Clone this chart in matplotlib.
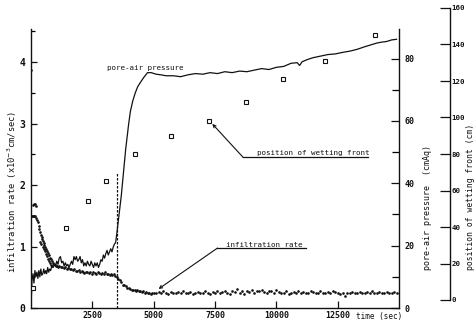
import matplotlib
matplotlib.use("Agg")
import matplotlib.pyplot as plt
from matplotlib.ticker import MultipleLocator, FixedLocator

plt.rcParams['font.family'] = ['DejaVu Sans Mono']

# ---------------- data ----------------
# infiltration rate (x10^-3 cm/sec), dots
rate_t = [20,
          40, 80, 120, 160, 70, 110, 150, 190,
          220, 250, 280, 310, 340, 370, 400, 430, 460, 490, 520, 550, 580, 610, 640,
          680, 720, 760, 800, 840, 880, 920, 960, 1000,
          380, 420, 470, 520, 570, 620, 660, 700, 740, 780, 820, 860,
          1040, 1100, 1160, 1220, 1280, 1340, 1400, 1460, 1520, 1580, 1640, 1700, 1760,
          1820, 1880, 1940, 2000, 2060, 2120, 2180, 2240, 2300, 2360, 2420, 2480, 2540,
          2600, 2660, 2720, 2780, 2840, 2900, 2960, 3020, 3080, 3140, 3200, 3260, 3320,
          3380, 3440, 3500,
          3560, 3620, 3680, 3740, 3800, 3860, 3920, 3980, 4040, 4100, 4160, 4220, 4280,
          4340, 4400, 4460, 4520, 4580, 4640, 4700, 4760, 4820, 4880, 4940, 5000,
          5100, 5200, 5300, 5400, 5500, 5600, 5700, 5800, 5900, 6000,
          6100, 6200, 6300, 6400, 6500, 6600, 6700, 6800, 6900, 7000,
          7100, 7200, 7300, 7400, 7500, 7600, 7700, 7800, 7900, 8000,
          8100, 8200, 8300, 8400, 8500, 8600, 8700, 8800, 8900, 9000,
          9100, 9200, 9300, 9400, 9500, 9600, 9700, 9800, 9900, 10000,
          10100, 10200, 10300, 10400, 10500, 10600, 10700, 10800, 10900, 11000,
          11100, 11200, 11300, 11400, 11500, 11600, 11700, 11800, 11900, 12000,
          12100, 12200, 12300, 12400, 12500, 12600, 12700, 12800, 12900, 13000,
          13100, 13200, 13300, 13400, 13500, 13600, 13700, 13800, 13900, 14000,
          14100, 14200, 14300, 14400, 14500, 14600, 14700, 14800, 14900]
rate_v = [3.87,
          1.50, 1.50, 1.50, 1.49, 1.68, 1.70, 1.69, 1.66,
          1.46, 1.43, 1.40, 1.34, 1.29, 1.24, 1.19, 1.16, 1.12, 1.09, 1.05, 1.03, 0.99, 0.96, 0.93,
          0.90, 0.86, 0.82, 0.79, 0.76, 0.73, 0.71, 0.70, 0.69,
          1.07, 1.04, 1.00, 0.96, 0.92, 0.88, 0.84, 0.80, 0.76, 0.73, 0.70, 0.68,
          0.68, 0.67, 0.68, 0.66, 0.67, 0.65, 0.66, 0.64, 0.65, 0.63, 0.64, 0.62, 0.63,
          0.61, 0.60, 0.62, 0.58, 0.60, 0.59, 0.57, 0.59, 0.58, 0.57, 0.58, 0.56, 0.58,
          0.57, 0.56, 0.58, 0.57, 0.55, 0.57, 0.56, 0.58, 0.55, 0.56, 0.54, 0.56, 0.53,
          0.55, 0.52, 0.50,
          0.48, 0.46, 0.42, 0.38, 0.37, 0.35, 0.33, 0.33, 0.31, 0.30, 0.29, 0.29, 0.28,
          0.29, 0.27, 0.28, 0.26, 0.27, 0.25, 0.26, 0.24, 0.25, 0.23, 0.25, 0.24,
          0.25, 0.26, 0.24, 0.27, 0.25, 0.23, 0.26, 0.25, 0.24, 0.26,
          0.25, 0.27, 0.24, 0.25, 0.26, 0.23, 0.25, 0.26, 0.24, 0.25,
          0.27, 0.25, 0.23, 0.26, 0.25, 0.27, 0.24, 0.26, 0.28, 0.25,
          0.23, 0.27, 0.26, 0.31, 0.24, 0.28, 0.22, 0.27, 0.26, 0.29,
          0.25, 0.28, 0.27, 0.30, 0.26, 0.24, 0.28, 0.27, 0.25, 0.29,
          0.26, 0.24, 0.25, 0.27, 0.23, 0.25, 0.26, 0.24, 0.27, 0.25,
          0.26, 0.24, 0.25, 0.27, 0.26, 0.24, 0.25, 0.27, 0.25, 0.24,
          0.26, 0.25, 0.27, 0.26, 0.24, 0.22, 0.25, 0.19, 0.24, 0.25,
          0.26, 0.25, 0.24, 0.26, 0.25, 0.24, 0.26, 0.25, 0.27, 0.24,
          0.25, 0.26, 0.24, 0.25, 0.26, 0.24, 0.25, 0.26, 0.25]

# pore-air pressure (cmAq), line
press_t = [0, 40, 80, 120, 160, 200, 240, 280, 320, 360, 400, 440, 480, 520, 560, 600,
           640, 680, 720, 760, 800, 850, 900, 950, 1000, 1050, 1100, 1150, 1200, 1250,
           1300, 1350, 1400, 1450, 1500, 1550, 1600, 1650, 1700, 1750, 1800, 1850, 1900,
           1950, 2000, 2050, 2100, 2150, 2200, 2250, 2300, 2350, 2400, 2450, 2500, 2550,
           2600, 2650, 2700, 2750, 2800, 2850, 2900, 2950, 3000, 3050, 3100, 3150, 3200,
           3250, 3300, 3350, 3400, 3450, 3500, 3560, 3620, 3680, 3740, 3800, 3860, 3920,
           3980, 4050, 4150, 4250, 4350, 4470, 4600, 4750, 4900, 5100, 5300, 5500, 5800,
           6100, 6400, 6700, 7000, 7300, 7600, 7900, 8200, 8500, 8800, 9100, 9400, 9700,
           10000, 10300, 10600, 10850, 10950, 11050, 11300, 11500, 11800, 12100, 12400,
           12700, 13000, 13300, 13600, 13900, 14100, 14300, 14500, 14700, 14900]
press_v = [0, 9, 11, 8, 12, 10, 11.5, 9.5, 12, 10, 12.5, 10.5, 11, 12.5, 11, 12,
           11, 13, 11.5, 12.5, 12, 13.5, 13, 14, 13.5, 15, 14, 16, 16.5, 14.5,
           15, 13.5, 14.5, 13.5, 14, 13, 14, 15, 14, 16.5, 15.5, 16.5, 15,
           15.5, 16.5, 14.5, 15.5, 13.5, 14.5, 13.5, 15, 14, 13.5, 15, 14, 13,
           14.5, 13.5, 14.5, 13, 14, 15.5, 15, 17, 16, 17.5, 18.5, 17, 18,
           19, 18, 19.5, 20.5, 21, 24, 28, 32, 36, 41, 46, 51, 55,
           59, 63, 66.5, 69, 71, 72.5, 74, 75.5, 75.5, 75, 74.8, 74.5, 74.5,
           74.2, 74.8, 75.2, 75, 75.5, 75.2, 75.8, 75.5, 76, 75.8, 76.3, 76.8, 76.5,
           77.2, 77.5, 78.5, 78.7, 77.8, 79, 79.8, 80.3, 80.8, 81.3, 81.5,
           82, 82.4, 83, 83.8, 84.5, 85, 85.3, 85.5, 86, 86.2]

# position of wetting front (cm), open squares
front_t = [100, 1420, 2310, 3050, 4230, 5690, 7240, 8780, 10290, 11990, 14020]
front_pos = [6.5, 39.5, 54, 65, 80, 90, 98, 108.5, 121, 131, 145]

x_ticks = [2500, 5000, 7500, 10000, 12500]
rate_ticks = [0, 1, 2, 3, 4]
press_ticks = [0, 20, 40, 60, 80]
front_ticks = [0, 20, 40, 60, 80, 100, 120, 140, 160]
t_switch = 3500

# ---------------- figure ----------------
W, H = 475, 327
fig = plt.figure(figsize=(W / 100, H / 100), dpi=100)

def fx(px):
    return px / W

def fy(py):
    return 1 - py / H

L, R, B, T = 31, 399, 308, 29
ax = fig.add_axes([fx(L), fy(B), fx(R - L), fy(T) - fy(B)])
ax2 = ax.twinx()
ax3 = fig.add_axes([fx(L), fy(300), fx(R - L), fy(8) - fy(300)])

ink = '#111111'
fs_tick = 6

# main axis
ax.set_xlim(0, 15000)
ax.set_ylim(0, 4.54)
ax.spines['top'].set_visible(False)
ax.spines['right'].set_visible(False)
for s in ('left', 'bottom'):
    ax.spines[s].set_linewidth(1.0)
    ax.spines[s].set_color(ink)
ax.xaxis.set_major_locator(FixedLocator(x_ticks))
ax.yaxis.set_major_locator(FixedLocator(rate_ticks))
ax.yaxis.set_minor_locator(MultipleLocator(0.5))
ax.tick_params(axis='x', direction='in', length=5, width=0.9, pad=2,
               labelsize=fs_tick, colors=ink)
ax.tick_params(axis='y', which='major', direction='in', length=4, width=0.9, pad=4,
               labelsize=fs_tick + 1, colors=ink)
ax.tick_params(axis='y', which='minor', direction='in', length=3, width=0.9)
for lab in ax.get_xticklabels() + ax.get_yticklabels():
    lab.set_fontweight('bold')

ax.plot(rate_t, rate_v, linestyle='none', marker='o', markersize=1.9,
        color=ink, markeredgewidth=0)
ax.plot([t_switch, t_switch], [0, 2.2], linestyle=(0, (2, 1.2)), color=ink, lw=0.9)

# pressure axis
ax2.set_ylim(0, 89.5)
for s in ('top', 'left', 'bottom'):
    ax2.spines[s].set_visible(False)
ax2.spines['right'].set_linewidth(1.0)
ax2.spines['right'].set_color(ink)
ax2.yaxis.set_major_locator(FixedLocator(press_ticks))
ax2.yaxis.set_minor_locator(MultipleLocator(10))
ax2.tick_params(axis='y', which='major', direction='in', length=6, width=0.9, pad=4,
                labelsize=fs_tick, colors=ink)
ax2.tick_params(axis='y', which='minor', direction='in', length=5, width=0.9)
for lab in ax2.get_yticklabels():
    lab.set_fontweight('bold')
ax2.plot(press_t, press_v, color=ink, lw=0.9)

# wetting front axis
ax3.patch.set_visible(False)
ax3.set_xlim(0, 15000)
ax3.set_ylim(0, 160)
for s in ('top', 'left', 'bottom'):
    ax3.spines[s].set_visible(False)
ax3.spines['right'].set_position(('axes', (450 - L) / (R - L)))
ax3.spines['right'].set_linewidth(1.0)
ax3.spines['right'].set_color(ink)
ax3.xaxis.set_visible(False)
ax3.yaxis.tick_right()
ax3.yaxis.set_major_locator(FixedLocator(front_ticks))
ax3.tick_params(axis='y', direction='in', length=7, width=0.9, pad=1,
                labelsize=5.3, colors=ink)
for lab in ax3.get_yticklabels():
    lab.set_fontweight('bold')
ax3.plot(front_t, front_pos, linestyle='none', marker='s', markersize=3,
         markerfacecolor='white', markeredgecolor=ink, markeredgewidth=0.8)

# axis labels
fig.text(fx(12), fy(192), 'infiltration rate (x10$^{-3}$cm/sec)', rotation=90,
         ha='center', va='center', fontsize=6.3, color=ink)
fig.text(fx(427), fy(208), 'pore-air pressure  (cmAq)', rotation=90,
         ha='center', va='center', fontsize=6.0, color=ink)
fig.text(fx(470.5), fy(197), 'position of wetting front (cm)', rotation=90,
         ha='center', va='center', fontsize=5.8, color=ink)
fig.text(fx(379), fy(316), 'time (sec)', ha='center', va='center',
         fontsize=5.5, color=ink)

# annotations
ax.text(3100, 3.9, 'pore-air pressure', fontsize=5.4, color=ink, va='center')

ax.text(9200, 2.52, 'position of wetting front', fontsize=5.4, color=ink, va='center')
ax.plot([8650, 13750], [2.45, 2.45], color=ink, lw=0.9)
ax.annotate('', xy=(front_t[6] + 150, front_pos[6] - 1.5), xycoords=ax3.transData,
            xytext=(8650, 2.45), textcoords='data',
            arrowprops=dict(arrowstyle='->', color=ink, lw=0.8,
                            shrinkA=0, shrinkB=0, mutation_scale=5))

ax.text(7950, 1.03, 'infiltration rate', fontsize=5.4, color=ink, va='center')
ax.plot([7600, 11200], [0.975, 0.975], color=ink, lw=0.9)
ax.annotate('', xy=(5200, 0.31), xytext=(7600, 0.975),
            arrowprops=dict(arrowstyle='->', color=ink, lw=0.8,
                            shrinkA=0, shrinkB=0, mutation_scale=5))

fig.savefig('out.png', dpi=100)
